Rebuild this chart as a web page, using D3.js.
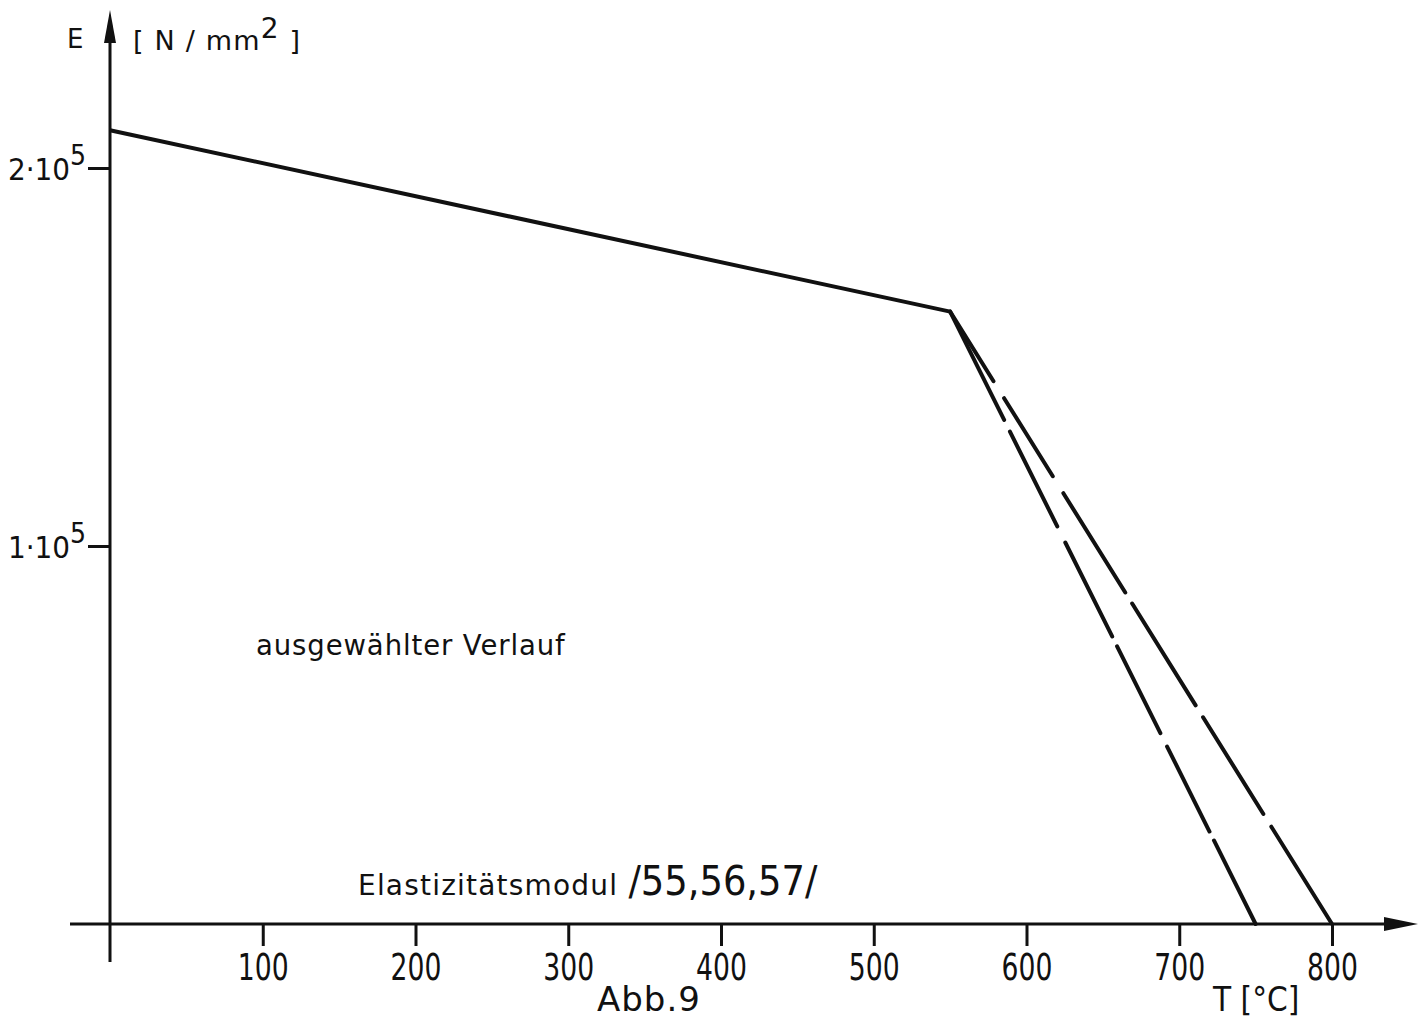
<!DOCTYPE html>
<html>
<head>
<meta charset="utf-8">
<script src="https://cdn.jsdelivr.net/npm/d3@7"></script>
<style>
  html, body { margin: 0; padding: 0; background: #fff; }
  svg { display: block; }
  text { fill: #111; }
</style>
</head>
<body>
<svg id="chart" width="1426" height="1020"></svg>
<script>
// Elastic modulus E [N/mm²] of steel versus temperature T [°C]
const xTicks = [100, 200, 300, 400, 500, 600, 700, 800];
const yTicks = [1e5, 2e5];
const yTickLabels = ["1·10", "2·10"];
const yTickExp = ["5", "5"];

// selected curve: linear decrease up to 550 °C
const selectedT = [0, 550];
const selectedE = [2.1e5, 1.62e5];

// two alternative branches above 550 °C
const branchAT = [550, 750];
const branchAE = [1.62e5, 0];
const branchBT = [550, 800];
const branchBE = [1.62e5, 0];

const ink = "#111";
const svg = d3.select("#chart");

const x = d3.scaleLinear().domain([0, 800]).range([110, 1332]);
const y = d3.scaleLinear().domain([0, 2e5]).range([924, 168]);

// hand-drawn dash rhythm of the two branches
const dashA = "121,13,106,18,105,11,97,15,95,10,200";
const dashB = "82,20,92,20,117,13,120,14,114,15,200";

const narrow = "'Liberation Sans Narrow', 'DejaVu Sans Condensed', sans-serif";
const lettering = "'DejaVu Sans', 'Noto Sans', sans-serif";

// axes lines with arrow heads
svg.append("line")
  .attr("x1", 70).attr("x2", 1392)
  .attr("y1", y(0)).attr("y2", y(0))
  .attr("stroke", ink).attr("stroke-width", 3);
svg.append("path")
  .attr("d", `M1384,${y(0) - 7} L1418,${y(0)} L1384,${y(0) + 7} Z`)
  .attr("fill", ink);

svg.append("line")
  .attr("x1", x(0)).attr("x2", x(0))
  .attr("y1", 962).attr("y2", 40)
  .attr("stroke", ink).attr("stroke-width", 3);
svg.append("path")
  .attr("d", `M${x(0) - 6},43 L${x(0)},10 L${x(0) + 6},43 Z`)
  .attr("fill", ink);

// x axis ticks
const xAxis = d3.axisBottom(x)
  .tickValues(xTicks)
  .tickSize(22)
  .tickPadding(6)
  .tickFormat(d3.format("d"));
const gx = svg.append("g")
  .attr("transform", `translate(0,${y(0)})`)
  .call(xAxis);
gx.select(".domain").remove();
gx.selectAll(".tick line").attr("stroke", ink).attr("stroke-width", 3);
gx.selectAll(".tick text")
  .attr("font-family", narrow)
  .attr("font-size", 37)
  .attr("fill", ink)
  .attr("dy", "0.76em")
  .attr("transform", "scale(0.8,1)");

// y axis ticks with superscript exponent labels
const yAxis = d3.axisLeft(y)
  .tickValues(yTicks)
  .tickSize(22)
  .tickFormat("");
const gy = svg.append("g")
  .attr("transform", `translate(${x(0)},0)`)
  .call(yAxis);
gy.select(".domain").remove();
gy.selectAll(".tick line").attr("stroke", ink).attr("stroke-width", 3);
gy.selectAll(".tick").each(function (d, i) {
  const t = d3.select(this).append("text")
    .attr("x", -24)
    .attr("y", 11)
    .attr("text-anchor", "end")
    .attr("font-family", narrow)
    .attr("font-size", 31)
    .attr("fill", ink);
  t.append("tspan").text(yTickLabels[i]);
  t.append("tspan").attr("dy", -15).attr("font-size", 28).text(yTickExp[i]);
});

// curves
const line = d3.line().x(d => x(d[0])).y(d => y(d[1]));
svg.append("path")
  .datum(d3.zip(selectedT, selectedE))
  .attr("d", line)
  .attr("fill", "none").attr("stroke", ink)
  .attr("stroke-width", 4).attr("stroke-linejoin", "round");
svg.append("path")
  .datum(d3.zip(branchAT, branchAE))
  .attr("d", line)
  .attr("fill", "none").attr("stroke", ink)
  .attr("stroke-width", 4).attr("stroke-linecap", "round")
  .attr("stroke-dasharray", dashA);
svg.append("path")
  .datum(d3.zip(branchBT, branchBE))
  .attr("d", line)
  .attr("fill", "none").attr("stroke", ink)
  .attr("stroke-width", 4).attr("stroke-linecap", "round")
  .attr("stroke-dasharray", dashB);

// labels
svg.append("text").attr("x", 67).attr("y", 48)
  .attr("font-family", lettering).attr("font-size", 26)
  .attr("font-weight", 500).text("E");
const unit = svg.append("text").attr("x", 133).attr("y", 50)
  .attr("font-family", lettering).attr("font-size", 27)
  .attr("letter-spacing", 1.2);
unit.append("tspan").text("[ N / mm");
unit.append("tspan").attr("dy", -12).attr("font-size", 28).text("2");
unit.append("tspan").attr("dy", 12).text(" ]");

svg.append("text").attr("x", 256).attr("y", 655)
  .attr("font-family", lettering).attr("font-size", 27.5)
  .attr("letter-spacing", 0.9)
  .text("ausgewählter Verlauf");

const ref = svg.append("text").attr("x", 358).attr("y", 895)
  .attr("font-family", lettering).attr("font-size", 28);
ref.append("tspan").attr("letter-spacing", 1.2).text("Elastizitätsmodul ");
ref.append("tspan").attr("font-size", 41)
  .attr("font-family", narrow)
  .text("/55,56,57/");

svg.append("text").attr("x", 597).attr("y", 1011)
  .attr("font-family", lettering).attr("font-size", 34)
  .attr("letter-spacing", 1).text("Abb.9");

svg.append("text").attr("x", 1213).attr("y", 1011)
  .attr("font-family", narrow)
  .attr("font-size", 33).text("T [°C]");
</script>
</body>
</html>
